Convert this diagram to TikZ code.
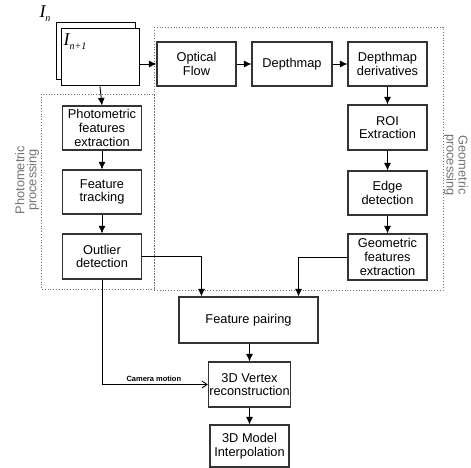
\documentclass[tikz,border=0pt]{standalone}
\usepackage{fontspec}
\setmainfont{Liberation Sans}
\newfontfamily\tms{Liberation Serif}
\usetikzlibrary{arrows.meta,positioning,calc}
\begin{document}
\begin{tikzpicture}[x=1pt,y=-1pt,
  box/.style={draw=black!80,line width=1.1pt,fill=white,minimum width=79pt,minimum height=44pt,inner sep=1pt,align=center,font=\fontsize{12.8}{13.6}\selectfont},
  arr/.style={draw=black,line width=0.9pt,-{Latex[length=7.5pt,width=7pt]}},
  oarr/.style={draw=black,line width=0.9pt,-{Straight Barb[length=5pt,width=7pt]}},
  region/.style={draw=black!55,dotted,line width=0.8pt},
  rlabel/.style={text=black!55,align=center,font=\fontsize{12.8}{12}\selectfont},
  frame/.style={draw=black,line width=1pt,fill=white},
  imlabel/.style={inner sep=0pt,font=\tms\itshape\fontsize{18}{18}\selectfont}]
\useasboundingbox (0,0) rectangle (471,468);
% regions
\draw[region] (41,94) rectangle (154,289);
\draw[region] (154,27) rectangle (443,290);
\node[rlabel,rotate=90] (plab) at (27,180) {Photometric\\processing};
\node[rlabel,rotate=-90] (glab) at (456,165) {Geometric\\processing};
% image frames
\draw[frame] (56,23) rectangle (135,80);
\node[frame,minimum width=78pt,minimum height=57pt,inner sep=0pt] (fr) at (100,57.5) {};
\node[imlabel] (In) at (45,14) {I\raisebox{-4pt}{\fontsize{10}{10}\selectfont n}};
\node[imlabel] (In1) at (75,42) {I\raisebox{-4pt}{\fontsize{10}{10}\selectfont n+1}};
% boxes
\node[box] (pfe) at (102,128) {Photometric\\features\\extraction};
\node[box] (ft) at (102,192) {Feature\\tracking};
\node[box,minimum height=45pt] (od) at (102,256.5) {Outlier\\detection};
\node[box] (opt) at (196.5,64) {Optical\\Flow};
\node[box,minimum width=80pt] (dm) at (292,64) {Depthmap};
\node[box] (dd) at (387.5,64) {Depthmap\\derivatives};
\node[box,minimum height=45pt] (roi) at (387.5,127.5) {ROI\\Extraction};
\node[box] (ed) at (387.5,193) {Edge\\detection};
\node[box,minimum height=46pt] (gfe) at (387.5,257) {Geometric\\features\\extraction};
\node[box,minimum width=139pt,minimum height=46pt] (fp) at (248.5,320) {Feature pairing};
\node[box,minimum height=45pt] (vr) at (249.5,384.5) {3D Vertex\\reconstruction};
\node[box,minimum height=42pt] (mi) at (249.5,446) {3D Model\\Interpolation};
% connectors
\draw[arr] (fr.south) -- (pfe.north);
\draw[arr] (opt.west -| fr.east) -- (opt.west);
\draw[arr] (opt.east) -- (dm.west);
\draw[arr] (dm.east) -- (dd.west);
\draw[arr] (dd.south) -- (roi.north);
\draw[arr] (roi.south) -- (ed.north);
\draw[arr] (ed.south) -- (gfe.north);
\draw[arr] (pfe.south) -- (ft.north);
\draw[arr] (ft.south) -- (od.north);
\draw[arr] (od.east) -| ([xshift=23pt]fp.north west);
\draw[arr] (gfe.west) -| ([xshift=-20pt]fp.north east);
\draw[arr] (fp.south -| vr.north) -- (vr.north);
\draw[arr] (vr.south) -- (mi.north);
\draw[oarr] (od.south) |- node[pos=0.745,above=-1pt,font=\fontsize{7.5}{8}\selectfont\bfseries] (cm) {Camera motion} (vr.west);
\end{tikzpicture}
\end{document}
